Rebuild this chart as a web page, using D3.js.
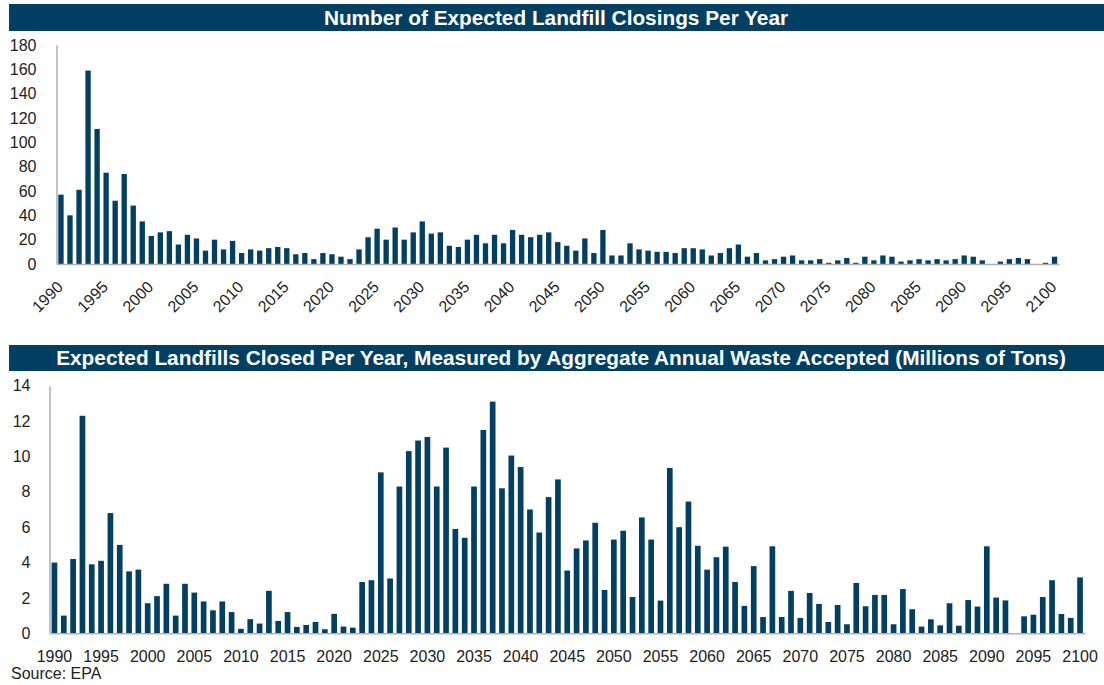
<!DOCTYPE html>
<html>
<head>
<meta charset="utf-8">
<script src="https://cdn.jsdelivr.net/npm/d3@7"></script>
<style>
  html, body { margin: 0; padding: 0; background: #fff; }
  svg { display: block; font-family: "Liberation Sans", Arial, sans-serif; }
</style>
</head>
<body>
<svg id="chart" width="1104" height="685"></svg>
<script>
// Years covered by both panels
const years = d3.range(1990, 2101);

// Number of landfills expected to close each year
const closingsCount = [
  57, 40, 61, 159, 111, 75, 52, 74, 48, 35,
  23, 26, 27, 16, 24, 21, 11, 20, 12, 19,
  9, 12, 11, 13, 14, 13, 8, 9, 4, 9,
  8, 6, 4, 12, 22, 29, 20, 30, 20, 26,
  35, 25, 26, 15, 14, 20, 24, 17, 24, 17,
  28, 24, 22, 24, 26, 18, 15, 11, 21, 9,
  28, 7, 7, 17, 12, 11, 10, 10, 9, 13,
  13, 12, 7, 9, 13, 16, 6, 9, 3, 4,
  6, 7, 3, 3, 4, 1, 3, 5, 1, 6,
  3, 7, 6, 2, 3, 4, 3, 4, 3, 4,
  7, 6, 3, 0, 2, 4, 5, 4, 0, 1,
  6
];

// Annual waste accepted by landfills closing each year (millions of tons)
const closedTons = [
  4.0, 1.0, 4.2, 12.3, 3.9, 4.1, 6.8, 5.0, 3.5, 3.6,
  1.7, 2.1, 2.8, 1.0, 2.8, 2.3, 1.8, 1.3, 1.8, 1.2,
  0.25, 0.8, 0.55, 2.4, 0.7, 1.2, 0.36, 0.47, 0.64, 0.23,
  1.1, 0.38, 0.32, 2.9, 3.0, 9.1, 3.1, 8.3, 10.3, 10.9,
  11.1, 8.3, 10.5, 5.9, 5.4, 8.3, 11.5, 13.1, 8.2, 10.05,
  9.4, 7.0, 5.7, 7.7, 8.7, 3.55, 4.8, 5.25, 6.25, 2.45,
  5.3, 5.8, 2.05, 6.55, 5.3, 1.85, 9.35, 6.0, 7.45, 4.95,
  3.6, 4.3, 4.9, 2.9, 1.55, 3.8, 0.92, 4.92, 0.92, 2.4,
  0.87, 2.28, 1.66, 0.64, 1.6, 0.51, 2.85, 1.53, 2.17, 2.17,
  0.51, 2.5, 1.36, 0.38, 0.79, 0.45, 1.7, 0.43, 1.88, 1.51,
  4.92, 2.02, 1.86, 0, 0.96, 1.05, 2.05, 3.0, 1.09, 0.87,
  3.16
];

// Axis tick values
const countTicks = d3.range(0, 181, 20);
const tonsTicks = d3.range(0, 15, 2);
const yearTicks = d3.range(1990, 2101, 5);

const titles = [
  "Number of Expected Landfill Closings Per Year",
  "Expected Landfills Closed Per Year, Measured by Aggregate Annual Waste Accepted (Millions of Tons)"
];
const sourceNote = "Source: EPA";

const NAVY = "#023f63";
const AXIS_GREY = "#b3b3b3";
const TEXT = "#222";

const svg = d3.select("#chart");

function banner(y0, h, text, cx) {
  svg.append("rect")
    .attr("x", 9).attr("y", y0).attr("width", 1095).attr("height", h)
    .attr("fill", NAVY);
  svg.append("text")
    .attr("x", cx).attr("y", y0 + h / 2)
    .attr("dy", "0.36em")
    .attr("text-anchor", "middle")
    .attr("fill", "#fff")
    .attr("font-weight", "bold")
    .attr("font-size", 20.8)
    .text(text);
}

function styleAxis(g) {
  g.select(".domain").attr("stroke", AXIS_GREY).attr("stroke-width", 1.6);
  g.selectAll(".tick line").remove();
  g.selectAll(".tick text")
    .attr("fill", TEXT)
    .attr("font-size", 16)
    .attr("font-family", '"Liberation Sans", Arial, sans-serif');
}

// ---- Panel 1: number of closings ----
banner(4, 27, titles[0], 556);

const x1 = d3.scaleBand().domain(years).range([56.5, 1059]).paddingInner(0.41).paddingOuter(0.2);
const y1 = d3.scaleLinear().domain([0, 180]).range([264, 45]);

svg.append("g")
  .selectAll("rect")
  .data(years.map((yr, i) => ({ yr, v: closingsCount[i] })))
  .join("rect")
  .attr("x", d => x1(d.yr))
  .attr("width", x1.bandwidth())
  .attr("y", d => y1(d.v))
  .attr("height", d => y1(0) - y1(d.v))
  .attr("fill", NAVY);

svg.append("g")
  .attr("transform", "translate(56.5,0)")
  .call(d3.axisLeft(y1).tickValues(countTicks).tickSize(0).tickPadding(20).tickSizeOuter(0))
  .call(styleAxis);

svg.append("g")
  .attr("transform", "translate(0,264)")
  .call(d3.axisBottom(x1).tickValues(yearTicks).tickSize(0).tickSizeOuter(0))
  .call(styleAxis)
  .call(g => g.selectAll(".tick text")
    .attr("y", 0).attr("dy", 0)
    .attr("text-anchor", "end")
    .attr("transform", "translate(3,24) rotate(-45)"));

// ---- Panel 2: waste accepted by closing landfills ----
banner(345, 26, titles[1], 561);

const x2 = d3.scaleBand().domain(years).range([49.8, 1084.7]).paddingInner(0.39).paddingOuter(0.195);
const y2 = d3.scaleLinear().domain([0, 14]).range([633.3, 385.7]);

svg.append("g")
  .selectAll("rect")
  .data(years.map((yr, i) => ({ yr, v: closedTons[i] })))
  .join("rect")
  .attr("x", d => x2(d.yr))
  .attr("width", x2.bandwidth())
  .attr("y", d => y2(d.v))
  .attr("height", d => y2(0) - y2(d.v))
  .attr("fill", NAVY);

svg.append("g")
  .attr("transform", "translate(49.5,0)")
  .call(d3.axisLeft(y2).tickValues(tonsTicks).tickSize(0).tickPadding(19).tickSizeOuter(0))
  .call(styleAxis);

svg.append("g")
  .attr("transform", "translate(0,633.3)")
  .call(d3.axisBottom(x2).tickValues(yearTicks).tickSize(0).tickPadding(17).tickSizeOuter(0))
  .call(styleAxis);

svg.append("text")
  .attr("x", 11).attr("y", 679)
  .attr("fill", TEXT)
  .attr("font-size", 16)
  .text(sourceNote);
</script>
</body>
</html>
